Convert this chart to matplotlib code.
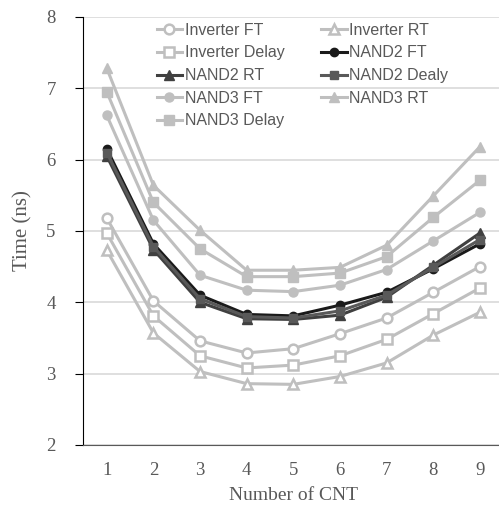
import matplotlib
matplotlib.use('Agg')
import matplotlib.pyplot as plt

cnt = [1, 2, 3, 4, 5, 6, 7, 8, 9]

inv_ft    = [5.18, 4.02, 3.46, 3.29, 3.35, 3.56, 3.78, 4.14, 4.50]
inv_rt    = [4.73, 3.57, 3.03, 2.86, 2.85, 2.96, 3.15, 3.54, 3.86]
inv_delay = [4.97, 3.81, 3.25, 3.08, 3.12, 3.25, 3.48, 3.84, 4.20]
nand2_ft    = [6.15, 4.82, 4.10, 3.83, 3.81, 3.96, 4.14, 4.47, 4.82]
nand2_rt    = [6.05, 4.74, 4.00, 3.77, 3.76, 3.82, 4.07, 4.52, 4.97]
nand2_delay = [6.10, 4.78, 4.05, 3.80, 3.78, 3.88, 4.10, 4.49, 4.88]
nand3_ft    = [6.62, 5.15, 4.38, 4.17, 4.15, 4.24, 4.46, 4.86, 5.26]
nand3_rt    = [7.28, 5.64, 5.01, 4.45, 4.45, 4.49, 4.80, 5.49, 6.18]
nand3_delay = [6.95, 5.40, 4.75, 4.36, 4.36, 4.41, 4.64, 5.19, 5.71]

light = '#BFBFBF'

fig = plt.figure(figsize=(4.99, 5.16), dpi=100)
ax = fig.add_axes([0.1673, 0.1376, 0.841, 0.8295])

# inverter series: hollow markers
ax.plot(cnt, inv_ft, color=light, lw=2.2, marker='o', ms=7, mfc='white', mec=light, mew=1.8, label='Inverter FT')
ax.plot(cnt, inv_rt, color=light, lw=2.2, marker='^', ms=7.5, mfc='white', mec=light, mew=1.8, label='Inverter RT')
ax.plot(cnt, inv_delay, color=light, lw=2.2, marker='s', ms=6.5, mfc='white', mec=light, mew=1.8, label='Inverter Delay')
# nand2 series: dark
ax.plot(cnt, nand2_ft, color='#1a1a1a', lw=2.2, marker='o', ms=6, label='NAND2 FT')
ax.plot(cnt, nand2_rt, color='#404040', lw=2.2, marker='^', ms=7, label='NAND2 RT')
ax.plot(cnt, nand2_delay, color='#595959', lw=2.2, marker='s', ms=6, label='NAND2 Dealy')
# nand3 series: light, filled
ax.plot(cnt, nand3_ft, color=light, lw=2.2, marker='o', ms=6.5, label='NAND3 FT')
ax.plot(cnt, nand3_rt, color=light, lw=2.2, marker='^', ms=7, label='NAND3 RT')
ax.plot(cnt, nand3_delay, color=light, lw=2.2, marker='s', ms=6.5, label='NAND3 Delay')

ax.set_xlim(0.5, 9.5)
ax.set_ylim(2, 8)
ax.set_xticks(cnt)
ax.set_yticks([2, 3, 4, 5, 6, 7, 8])
ax.grid(axis='y', color='#D9D9D9', lw=1.2)
ax.set_axisbelow(True)

for s in ['top', 'right']:
    ax.spines[s].set_visible(False)
ax.spines['left'].set_color('black')
ax.spines['bottom'].set_color('#595959')
ax.tick_params(axis='x', length=0, pad=12)
ax.tick_params(axis='y', length=6, color='black', pad=14)

for lab in ax.get_xticklabels() + ax.get_yticklabels():
    lab.set_fontfamily('Liberation Serif')
    lab.set_fontsize(13.5)
    lab.set_color('#595959')

ax.set_xlabel('Number of CNT', family='Liberation Serif', fontsize=14, color='#595959', labelpad=6)
ax.set_ylabel('Time (ns)', family='Liberation Serif', fontsize=15, color='#595959', labelpad=10)

h, l = ax.get_legend_handles_labels()
# legend fills column by column: reorder so rows read as pairs
rows = [[0, 1], [2, 3], [4, 5], [6, 7], [8]]
col0 = [r[0] for r in rows]
col1 = [r[1] for r in rows if len(r) > 1]
idx = col0 + col1
leg = ax.legend([h[i] for i in idx], [l[i] for i in idx], ncol=2,
                loc='upper left', bbox_to_anchor=(0.14, 1.02),
                frameon=False, handlelength=1.6,
                handletextpad=0.15, columnspacing=2.3, labelspacing=0.48,
                prop={'family': 'Liberation Sans', 'size': 11.5})
for t in leg.get_texts():
    t.set_color('#595959')

fig.savefig('out.png', dpi=100)
